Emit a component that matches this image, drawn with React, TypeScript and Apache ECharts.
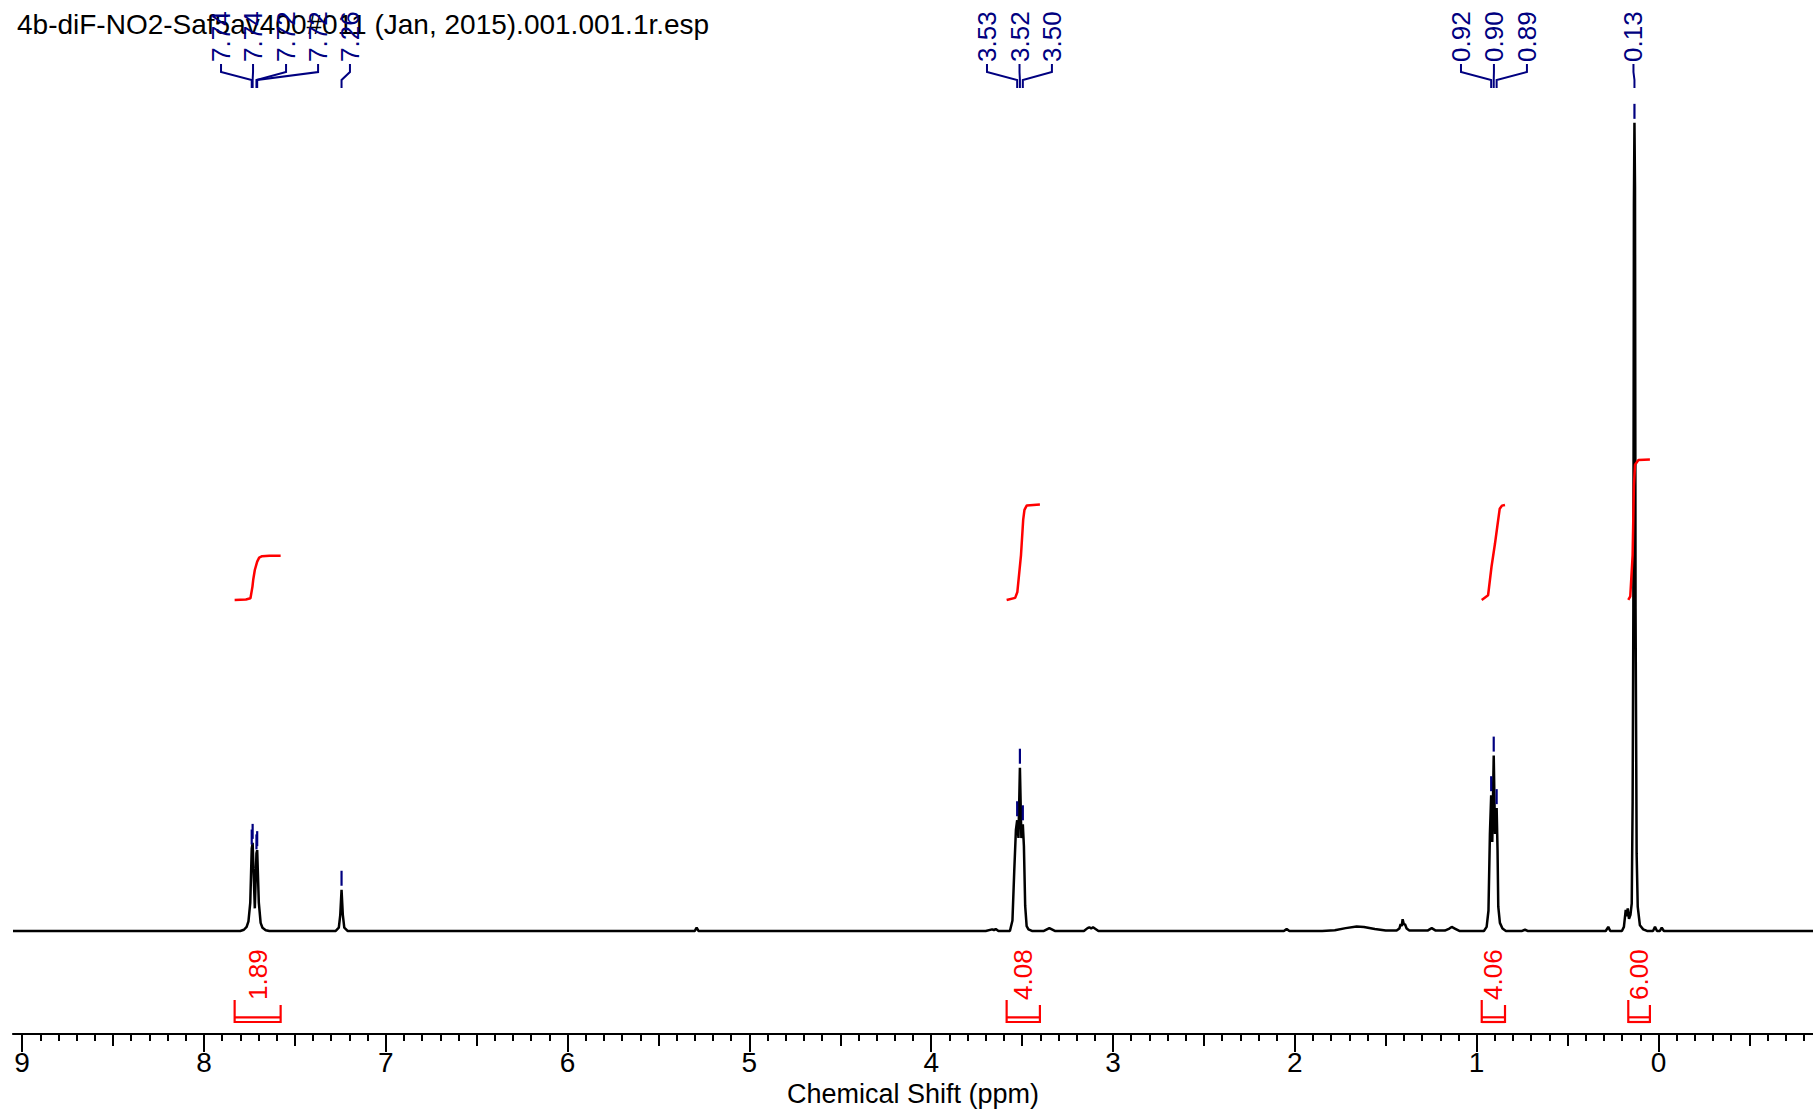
import React, { useEffect, useRef } from "react";
import * as echarts from "echarts";

const FONT = "'Liberation Sans', Arial, Helvetica, sans-serif";
const TITLE = "4b-diF-NO2-Saf5av400#011 (Jan, 2015).001.001.1r.esp";
const AXIS_NAME = "Chemical Shift (ppm)";

// axis ticks (ppm)
const MAJOR_TICKS = [0, 1, 2, 3, 4, 5, 6, 7, 8, 9];
const HALF_TICKS = [-0.5, 0.5, 1.5, 2.5, 3.5, 4.5, 5.5, 6.5, 7.5, 8.5];
const MINOR_TICKS = Array.from({ length: 99 }, (_, i) => Math.round(-8 + i) / 10);

// spectrum (ppm, relative intensity; TMS = 100)
const SPECTRUM: [number, number][] = [
  [9.05, 0],
  [7.8, 0], [7.78, 0.15], [7.765, 0.5], [7.755, 1.2], [7.745, 3.5], [7.737, 10.2], [7.732, 10.9],
  [7.72, 2.8], [7.711, 9.6], [7.707, 10.0], [7.698, 3.5], [7.688, 1.0], [7.678, 0.4], [7.66, 0.1], [7.64, 0],
  [7.275, 0], [7.258, 0.4], [7.25, 2.0], [7.243, 5.1], [7.236, 2.0], [7.228, 0.4], [7.21, 0],
  [5.3, 0], [5.29, 0.4], [5.28, 0],
  [3.7, 0], [3.665, 0.2], [3.655, 0.1], [3.645, 0.25], [3.63, 0],
  [3.567, 0], [3.553, 1.3], [3.543, 7.5], [3.534, 12.5], [3.527, 13.7], [3.52, 11.5], [3.512, 20.2],
  [3.504, 11.5], [3.496, 13.2], [3.49, 10.5], [3.483, 3.1], [3.475, 0.6], [3.465, 0.2], [3.446, 0],
  [3.38, 0], [3.35, 0.35], [3.32, 0],
  [3.16, 0], [3.14, 0.35], [3.13, 0.45], [3.12, 0.3], [3.11, 0.45], [3.1, 0.3], [3.08, 0],
  [2.06, 0], [2.045, 0.25], [2.03, 0],
  [1.85, 0], [1.78, 0.1], [1.72, 0.35], [1.66, 0.55], [1.62, 0.5], [1.56, 0.25], [1.5, 0.05], [1.46, 0.05],
  [1.44, 0.05], [1.425, 0.3], [1.418, 0.85], [1.412, 0.6], [1.407, 1.45], [1.4, 0.8], [1.394, 0.85], [1.385, 0.3], [1.37, 0.05],
  [1.27, 0.05], [1.247, 0.35], [1.225, 0.05],
  [1.175, 0.05], [1.15, 0.3], [1.137, 0.5], [1.12, 0.3], [1.095, 0],
  [0.96, 0], [0.945, 0.5], [0.935, 2.5], [0.927, 12], [0.92, 16.8], [0.914, 11], [0.906, 21.7], [0.899, 12],
  [0.89, 15.2], [0.885, 10], [0.881, 3], [0.872, 1], [0.858, 0.3], [0.839, 0],
  [0.75, 0], [0.734, 0.15], [0.72, 0],
  [0.29, 0], [0.276, 0.5], [0.265, 0],
  [0.201, 0], [0.19, 0.5], [0.18, 2.6], [0.175, 1.8], [0.169, 2.8], [0.162, 1.5], [0.154, 2.0], [0.147, 3.4],
  [0.142, 16], [0.138, 40], [0.135, 90], [0.132, 100], [0.129, 92], [0.126, 40], [0.122, 20], [0.12, 9.6],
  [0.114, 3], [0.102, 0.7], [0.084, 0.2], [0.063, 0],
  [0.03, 0], [0.019, 0.5], [0.008, 0], [-0.008, 0], [-0.018, 0.4], [-0.03, 0], [-0.85, 0],
];

// peak picking labels
const PEAK_LABELS = ["7.74", "7.74", "7.72", "7.72", "7.26", "3.53", "3.52", "3.50", "0.92", "0.90", "0.89", "0.13"];
const PEAK_PPM = [7.737, 7.732, 7.711, 7.707, 7.243, 3.527, 3.512, 3.496, 0.92, 0.906, 0.89, 0.132];
const PEAK_HEIGHT = [10.2, 10.9, 9.6, 10.0, 5.1, 13.7, 20.2, 13.2, 16.8, 21.7, 15.2, 100];
// label spreading (pixels, layout only)
const LABEL_DX = [-30.7, 0.4, 29.6, 60.9, 8.4, -30.2, -0.4, 29.1, -30.2, 0.2, 30.3, -1.0];

// integrals
const INTEGRAL_LABELS = ["1.89", "4.08", "4.06", "6.00"];
const INTEGRAL_RANGES: [number, number][] = [
  [7.831, 7.578],
  [3.585, 3.402],
  [0.972, 0.844],
  [0.166, 0.047],
];
const INTEGRAL_1: [number, number][] = [
  [7.831, 0], [7.769, 0.02], [7.744, 0.07], [7.733, 0.57], [7.729, 0.85], [7.72, 1.28], [7.707, 1.64],
  [7.696, 1.81], [7.68, 1.87], [7.64, 1.89], [7.578, 1.89],
];
const INTEGRAL_2: [number, number][] = [
  [3.585, 0], [3.538, 0.09], [3.526, 0.34], [3.506, 1.92], [3.494, 3.42], [3.487, 3.85], [3.474, 4.04], [3.402, 4.08],
];
const INTEGRAL_3: [number, number][] = [
  [0.972, 0], [0.937, 0.2], [0.918, 1.43], [0.899, 2.41], [0.886, 3.16], [0.873, 3.9], [0.861, 4.03], [0.844, 4.06],
];
const INTEGRAL_4: [number, number][] = [
  [0.166, 0], [0.155, 0.15], [0.142, 1.92], [0.135, 4.88], [0.129, 5.78], [0.11, 5.98], [0.047, 6.0],
];
const INTEGRAL_CURVES = [INTEGRAL_1, INTEGRAL_2, INTEGRAL_3, INTEGRAL_4];

const BLUE = "#000080";
const RED = "#ff0000";

function buildOption(): any {
  const baseAxis = {
    type: "value",
    min: -0.85,
    max: 9.05,
    inverse: true,
    position: "bottom",
    gridIndex: 0,
    splitLine: { show: false },
  };
  const peakSeries = {
    type: "custom",
    xAxisIndex: 0,
    yAxisIndex: 0,
    silent: true,
    z: 5,
    data: PEAK_PPM.map((p, i) => [p, PEAK_HEIGHT[i], i]),
    renderItem: (params: any, api: any) => {
      const i = api.value(2);
      const pt = api.coord([api.value(0), api.value(1)]);
      const px = pt[0];
      const top = pt[1];
      const lx = px + LABEL_DX[i];
      return {
        type: "group",
        children: [
          {
            type: "text",
            x: lx,
            y: 62,
            rotation: Math.PI / 2,
            style: {
              text: PEAK_LABELS[i],
              fill: BLUE,
              fontSize: 26,
              fontFamily: FONT,
              align: "left",
              verticalAlign: "middle",
            },
          },
          {
            type: "polyline",
            shape: { points: [[lx, 64], [lx, 72], [px, 80], [px, 88]] },
            style: { stroke: BLUE, lineWidth: 2, fill: "none" },
          },
          {
            type: "line",
            shape: { x1: px, y1: top - 19, x2: px, y2: top - 4 },
            style: { stroke: BLUE, lineWidth: 2.2 },
          },
        ],
      };
    },
  };
  const bracketSeries = {
    type: "custom",
    xAxisIndex: 0,
    yAxisIndex: 0,
    silent: true,
    z: 5,
    data: INTEGRAL_RANGES.map((r, i) => [r[0], r[1], i]),
    renderItem: (params: any, api: any) => {
      const i = api.value(2);
      const x1 = api.coord([api.value(0), 0])[0];
      const x2 = api.coord([api.value(1), 0])[0];
      const st = { stroke: RED, lineWidth: 2.2 };
      return {
        type: "group",
        children: [
          { type: "line", shape: { x1, y1: 1000, x2: x1, y2: 1023 }, style: st },
          { type: "line", shape: { x1: x2, y1: 1005, x2, y2: 1023 }, style: st },
          { type: "line", shape: { x1, y1: 1017.3, x2, y2: 1017.3 }, style: st },
          { type: "line", shape: { x1, y1: 1022, x2, y2: 1022 }, style: st },
          {
            type: "text",
            x: (x1 + x2) / 2,
            y: 1000,
            rotation: Math.PI / 2,
            style: {
              text: INTEGRAL_LABELS[i],
              fill: RED,
              fontSize: 26,
              fontFamily: FONT,
              align: "left",
              verticalAlign: "middle",
            },
          },
        ],
      };
    },
  };

  return {
    animation: false,
    backgroundColor: "#ffffff",
    textStyle: { fontFamily: FONT },
    grid: { left: 13, right: 0, top: 0, bottom: 80, containLabel: false, outerBoundsMode: "none" },
    graphic: [
      {
        type: "text",
        x: 17,
        y: 24,
        z: 1,
        style: {
          text: TITLE,
          fill: "#000",
          fontSize: 28,
          fontFamily: FONT,
          align: "left",
          verticalAlign: "middle",
        },
      },
    ],
    xAxis: [
      {
        ...baseAxis,
        name: AXIS_NAME,
        nameLocation: "middle",
        nameGap: 46,
        nameTextStyle: { fontSize: 27, color: "#000", fontFamily: FONT },
        axisLine: { show: true, onZero: false, lineStyle: { color: "#000", width: 2.2 } },
        axisTick: { show: true, inside: false, length: 18, customValues: MAJOR_TICKS, lineStyle: { color: "#000", width: 2 } },
        axisLabel: { show: true, customValues: MAJOR_TICKS, margin: 14, fontSize: 28, color: "#000", fontFamily: FONT },
      },
      {
        ...baseAxis,
        axisLine: { show: false, onZero: false },
        axisTick: { show: true, inside: false, length: 12, customValues: HALF_TICKS, lineStyle: { color: "#000", width: 2 } },
        axisLabel: { show: false },
      },
      {
        ...baseAxis,
        axisLine: { show: false, onZero: false },
        axisTick: { show: true, inside: false, length: 7, customValues: MINOR_TICKS, lineStyle: { color: "#000", width: 2 } },
        axisLabel: { show: false },
      },
    ],
    yAxis: [
      { type: "value", min: -12.75, max: 115.2, show: false, splitLine: { show: false } },
      { type: "value", min: -18.55, max: 25.64, show: false, splitLine: { show: false } },
    ],
    series: [
      {
        type: "line",
        name: "spectrum",
        xAxisIndex: 0,
        yAxisIndex: 0,
        data: SPECTRUM,
        symbol: "none",
        showSymbol: false,
        silent: true,
        lineStyle: { color: "#000", width: 2.5 },
        z: 3,
      },
      ...INTEGRAL_CURVES.map((curve) => ({
        type: "line",
        xAxisIndex: 0,
        yAxisIndex: 1,
        data: curve,
        symbol: "none",
        showSymbol: false,
        silent: true,
        lineStyle: { color: RED, width: 2.5 },
        z: 4,
      })),
      bracketSeries,
      peakSeries,
    ],
  };
}

export default function App() {
  const ref = useRef<HTMLDivElement>(null);
  useEffect(() => {
    if (!ref.current) return;
    const chart = echarts.init(ref.current, null, { renderer: "svg" });
    chart.setOption(buildOption());
    return () => chart.dispose();
  }, []);
  return (
    <div
      ref={ref}
      style={{ position: "fixed", left: 0, top: 0, width: 1813, height: 1114, background: "#fff" }}
    />
  );
}
